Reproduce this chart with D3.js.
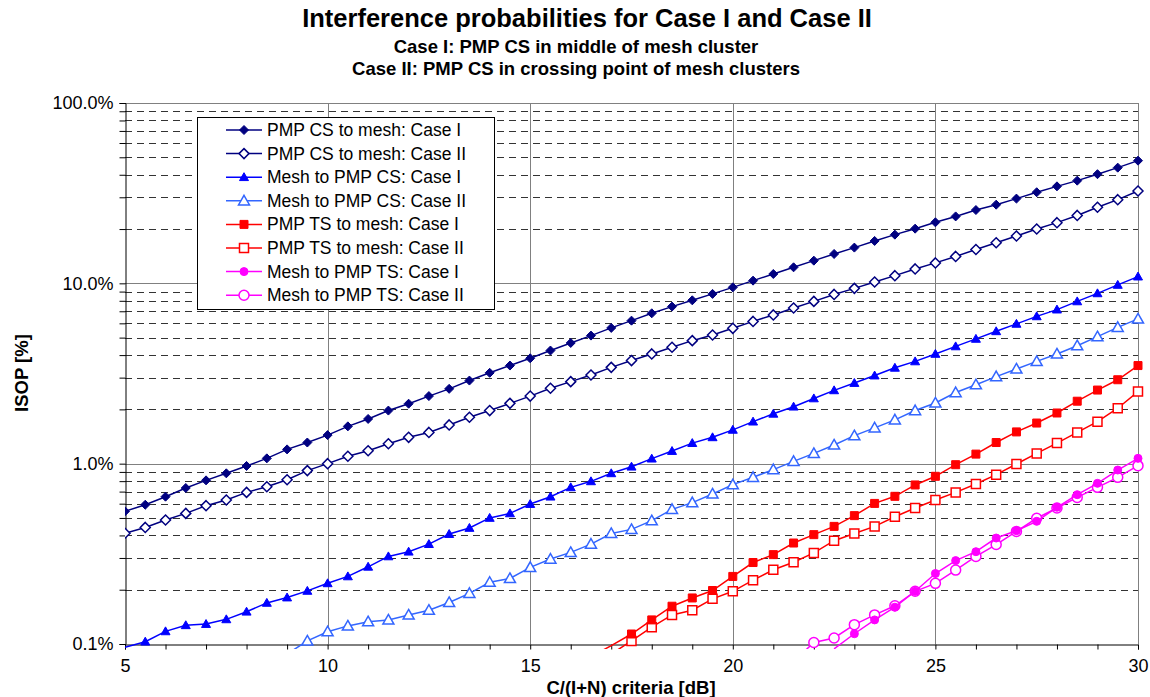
<!DOCTYPE html>
<html>
<head>
<meta charset="utf-8">
<script src="https://cdn.jsdelivr.net/npm/d3@7"></script>
<style>
  body { margin: 0; background: #fff; }
  svg { font-family: Arial, 'Liberation Sans', sans-serif; }
</style>
</head>
<body>
<svg id="chart" width="1150" height="697"></svg>
<script>
// C/(I+N) criteria in dB, one point every 0.5 dB
const criteria = [5, 5.5, 6, 6.5, 7, 7.5, 8, 8.5, 9, 9.5,
  10, 10.5, 11, 11.5, 12, 12.5, 13, 13.5, 14, 14.5,
  15, 15.5, 16, 16.5, 17, 17.5, 18, 18.5, 19, 19.5,
  20, 20.5, 21, 21.5, 22, 22.5, 23, 23.5, 24, 24.5,
  25, 25.5, 26, 26.5, 27, 27.5, 28, 28.5, 29, 29.5, 30];

// ISOP values in % (null = no point)
const csMeshCase1 = [0.544, 0.592, 0.656, 0.733, 0.808, 0.884, 0.971, 1.07, 1.20, 1.31,
  1.44, 1.61, 1.77, 1.97, 2.15, 2.37, 2.60, 2.89, 3.19, 3.50,
  3.84, 4.24, 4.67, 5.13, 5.66, 6.21, 6.82, 7.43, 8.05, 8.74,
  9.50, 10.35, 11.27, 12.27, 13.36, 14.55, 15.78, 17.18, 18.62, 20.1,
  21.8, 23.5, 25.5, 27.3, 29.5, 32.0, 34.5, 37.1, 40.3, 43.8, 47.9];

const csMeshCase2 = [0.411, 0.443, 0.487, 0.530, 0.585, 0.629, 0.693, 0.745, 0.815, 0.915,
  1.00, 1.10, 1.18, 1.29, 1.40, 1.49, 1.64, 1.81, 1.97, 2.16,
  2.37, 2.62, 2.85, 3.10, 3.42, 3.73, 4.06, 4.42, 4.81, 5.17,
  5.63, 6.15, 6.68, 7.30, 7.94, 8.68, 9.38, 10.18, 11.03, 12.02,
  12.98, 14.1, 15.4, 16.8, 18.3, 20.0, 21.7, 23.8, 26.4, 29.1, 32.5];

const meshCsCase1 = [0.096, 0.103, 0.1175, 0.127, 0.129, 0.137, 0.151, 0.169, 0.181, 0.197,
  0.217, 0.237, 0.268, 0.306, 0.325, 0.358, 0.407, 0.440, 0.500, 0.530,
  0.597, 0.656, 0.739, 0.798, 0.884, 0.962, 1.066, 1.175, 1.30, 1.40,
  1.54, 1.71, 1.89, 2.07, 2.30, 2.55, 2.80, 3.08, 3.40, 3.69,
  4.06, 4.47, 4.92, 5.42, 5.96, 6.56, 7.15, 7.94, 8.80, 9.80, 10.9];

const meshCsCase2 = [null, null, null, null, null, null, null, null, 0.088, 0.104,
  0.117, 0.126, 0.133, 0.136, 0.145, 0.154, 0.170, 0.191, 0.220, 0.231,
  0.266, 0.296, 0.322, 0.358, 0.410, 0.432, 0.483, 0.558, 0.608, 0.679,
  0.765, 0.840, 0.927, 1.03, 1.14, 1.27, 1.43, 1.58, 1.75, 1.97,
  2.17, 2.48, 2.74, 3.04, 3.35, 3.69, 4.06, 4.51, 5.06, 5.70, 6.35];

const tsMeshCase1 = [null, null, null, null, null, null, null, null, null, null,
  null, null, null, null, null, null, null, null, null, null,
  null, null, null, 0.085, 0.098, 0.1136, 0.136, 0.162, 0.180, 0.198,
  0.237, 0.283, 0.313, 0.363, 0.404, 0.449, 0.515, 0.602, 0.659, 0.762,
  0.851, 0.987, 1.13, 1.31, 1.50, 1.68, 1.91, 2.22, 2.56, 2.92, 3.50];

const tsMeshCase2 = [null, null, null, null, null, null, null, null, null, null,
  null, null, null, null, null, null, null, null, null, null,
  null, null, null, null, 0.088, 0.104, 0.124, 0.145, 0.154, 0.178,
  0.196, 0.226, 0.258, 0.284, 0.320, 0.374, 0.410, 0.449, 0.508, 0.568,
  0.629, 0.693, 0.771, 0.869, 0.996, 1.14, 1.30, 1.49, 1.71, 2.03, 2.51];

const meshTsCase1 = [null, null, null, null, null, null, null, null, null, null,
  null, null, null, null, null, null, null, null, null, null,
  null, null, null, null, null, null, null, null, null, null,
  null, null, null, null, null, 0.094, 0.114, 0.136, 0.160, 0.196,
  0.246, 0.290, 0.325, 0.387, 0.425, 0.479, 0.573, 0.673, 0.778, 0.922, 1.07];

const meshTsCase2 = [null, null, null, null, null, null, null, null, null, null,
  null, null, null, null, null, null, null, null, null, null,
  null, null, null, null, null, null, null, null, null, null,
  null, null, null, 0.080, 0.102, 0.108, 0.128, 0.145, 0.163, 0.196,
  0.217, 0.257, 0.306, 0.356, 0.421, 0.498, 0.568, 0.650, 0.739, 0.840, 0.975];

const seriesNames = ['PMP CS to mesh: Case I', 'PMP CS to mesh: Case II',
  'Mesh to PMP CS: Case I', 'Mesh to PMP CS: Case II',
  'PMP TS to mesh: Case I', 'PMP TS to mesh: Case II',
  'Mesh to PMP TS: Case I', 'Mesh to PMP TS: Case II'];

const xTicks = [5, 10, 15, 20, 25, 30];
const yTicks = [0.1, 1, 10, 100];

// styles for each series
const seriesStyle = [
  { color: '#000080', shape: 'diamond', filled: true, r: 4.5 },
  { color: '#000080', shape: 'diamond', filled: false, r: 5 },
  { color: '#0000ff', shape: 'triangle', filled: true, r: 4.5 },
  { color: '#3366ff', shape: 'triangle', filled: false, r: 5.5 },
  { color: '#ff0000', shape: 'square', filled: true, r: 4 },
  { color: '#ff0000', shape: 'square', filled: false, r: 4.5 },
  { color: '#ff00ff', shape: 'circle', filled: true, r: 4 },
  { color: '#ff00ff', shape: 'circle', filled: false, r: 5 }
];

const seriesValues = [csMeshCase1, csMeshCase2, meshCsCase1, meshCsCase2,
  tsMeshCase1, tsMeshCase2, meshTsCase1, meshTsCase2];

const svg = d3.select('#chart');
const plotLeft = 125, plotRight = 1138, plotTop = 103, plotBottom = 644;

const x = d3.scaleLinear().domain([5, 30]).range([plotLeft, plotRight]);
const y = d3.scaleLog().domain([0.1, 100]).range([plotBottom, plotTop]);

function markerPath(shape, r) {
  if (shape == 'diamond') return `M0,${-r}L${r},0L0,${r}L${-r},0Z`;
  if (shape == 'triangle') return `M0,${-r}L${r},${r * 0.75}L${-r},${r * 0.75}Z`;
  if (shape == 'square') return `M${-r},${-r}H${r}V${r}H${-r}Z`;
  return d3.arc()({ innerRadius: 0, outerRadius: r, startAngle: 0, endAngle: 2 * Math.PI });
}

// titles
svg.append('text').attr('x', 587).attr('y', 27).attr('text-anchor', 'middle')
  .attr('font-size', 25.5).attr('font-weight', 'bold')
  .text('Interference probabilities for Case I and Case II');
svg.append('text').attr('x', 576).attr('y', 53).attr('text-anchor', 'middle')
  .attr('font-size', 18.5).attr('font-weight', 'bold')
  .text('Case I: PMP CS in middle of mesh cluster');
svg.append('text').attr('x', 576).attr('y', 75).attr('text-anchor', 'middle')
  .attr('font-size', 18.5).attr('font-weight', 'bold')
  .text('Case II: PMP CS in crossing point of mesh clusters');

// minor gridlines (dashed)
const minorVals = [];
[0.1, 1, 10].forEach(d => { for (let k = 2; k <= 9; k++) minorVals.push(d * k); });

const grid = svg.append('g').attr('class', 'grid').attr('shape-rendering', 'crispEdges');
grid.selectAll('line.minor')
  .data(minorVals)
  .enter()
  .append('line')
  .attr('x1', plotLeft).attr('x2', plotRight)
  .attr('y1', d => Math.round(y(d)) + 0.5).attr('y2', d => Math.round(y(d)) + 0.5)
  .attr('stroke', '#333').attr('stroke-dasharray', '7,5');

grid.selectAll('line.major')
  .data([1, 10])
  .enter()
  .append('line')
  .attr('x1', plotLeft).attr('x2', plotRight)
  .attr('y1', d => Math.round(y(d)) + 0.5).attr('y2', d => Math.round(y(d)) + 0.5)
  .attr('stroke', '#808080');

grid.selectAll('line.vert')
  .data([10, 15, 20, 25])
  .enter()
  .append('line')
  .attr('y1', plotTop).attr('y2', plotBottom)
  .attr('x1', d => Math.round(x(d)) + 0.5).attr('x2', d => Math.round(x(d)) + 0.5)
  .attr('stroke', '#808080');

// plot border top / right
grid.append('path')
  .attr('d', `M${plotLeft},${plotTop + 0.5}H${plotRight + 0.5}V${plotBottom}`)
  .attr('fill', 'none').attr('stroke', '#808080');

// axes
const yAxis = d3.axisLeft(y)
  .tickValues(minorVals.concat(yTicks))
  .tickSize(6)
  .tickFormat(d => yTicks.includes(d) ? d.toFixed(1) + '%' : '');
svg.append('g')
  .attr('transform', `translate(${plotLeft + 0.5},0)`)
  .call(yAxis)
  .call(g => g.select('.domain').attr('stroke', '#000'))
  .call(g => g.selectAll('text').attr('font-size', 18).attr('fill', '#000')
    .attr('font-family', 'Arial, Liberation Sans, sans-serif').attr('dx', '-3'));

const xAxis = d3.axisBottom(x)
  .tickValues(d3.range(5, 31, 1))
  .tickSize(5)
  .tickFormat(d => xTicks.includes(d) ? d : '');
svg.append('g')
  .attr('transform', `translate(0,${plotBottom + 0.5})`)
  .call(xAxis)
  .call(g => g.select('.domain').attr('stroke', '#000'))
  .call(g => g.selectAll('text').attr('font-size', 18).attr('fill', '#000')
    .attr('font-family', 'Arial, Liberation Sans, sans-serif').attr('dy', '1.1em'));

// axis titles
svg.append('text').attr('x', 631).attr('y', 694).attr('text-anchor', 'middle')
  .attr('font-size', 18.5).attr('font-weight', 'bold')
  .text('C/(I+N) criteria [dB]');
svg.append('text')
  .attr('transform', 'translate(28,373) rotate(-90)')
  .attr('text-anchor', 'middle')
  .attr('font-size', 18.5).attr('font-weight', 'bold')
  .text('ISOP [%]');

// series
svg.append('clipPath').attr('id', 'plotClip')
  .append('rect').attr('x', plotLeft).attr('y', plotTop - 6)
  .attr('width', plotRight - plotLeft + 8).attr('height', plotBottom - plotTop + 11);

const plot = svg.append('g').attr('clip-path', 'url(#plotClip)');

const line = d3.line()
  .defined(d => d.v != null)
  .x(d => x(d.x))
  .y(d => y(d.v));

// draw in reverse so case I markers sit on top
d3.range(7, -1, -1).forEach(i => {
  const st = seriesStyle[i];
  const pts = criteria.map((c, j) => ({ x: c, v: seriesValues[i][j] }));
  const g = plot.append('g');
  g.append('path')
    .datum(pts)
    .attr('d', line)
    .attr('fill', 'none')
    .attr('stroke', st.color)
    .attr('stroke-width', 1.5);
  g.selectAll('path.mark')
    .data(pts.filter(d => d.v != null && d.v >= 0.1))
    .enter()
    .append('path')
    .attr('class', 'mark')
    .attr('transform', d => `translate(${x(d.x)},${y(d.v)})`)
    .attr('d', markerPath(st.shape, st.r))
    .attr('fill', st.filled ? st.color : '#fff')
    .attr('stroke', st.color)
    .attr('stroke-width', st.filled ? 1 : 1.5);
});

// legend
const legend = svg.append('g').attr('transform', 'translate(197,117)');
legend.append('rect')
  .attr('x', 0.5).attr('y', 0.5).attr('width', 297).attr('height', 192)
  .attr('fill', '#fff').attr('stroke', '#000');

const item = legend.selectAll('g.item')
  .data(seriesNames)
  .enter()
  .append('g')
  .attr('transform', (d, i) => `translate(0,${13 + i * 23.6})`);

item.append('line')
  .attr('x1', 29).attr('x2', 65)
  .attr('stroke', (d, i) => seriesStyle[i].color)
  .attr('stroke-width', 1.5);
item.append('path')
  .attr('transform', 'translate(47,0)')
  .attr('d', (d, i) => markerPath(seriesStyle[i].shape, seriesStyle[i].r))
  .attr('fill', (d, i) => seriesStyle[i].filled ? seriesStyle[i].color : '#fff')
  .attr('stroke', (d, i) => seriesStyle[i].color)
  .attr('stroke-width', (d, i) => seriesStyle[i].filled ? 1 : 1.5);
item.append('text')
  .attr('x', 70).attr('y', 6)
  .attr('font-size', 17.5)
  .text(d => d);
</script>
</body>
</html>
